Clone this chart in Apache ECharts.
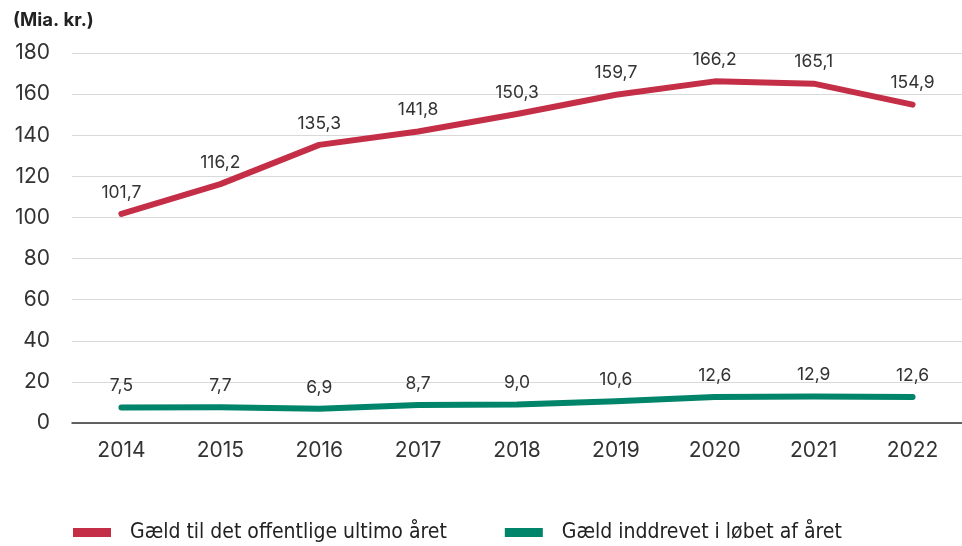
<!DOCTYPE html>
<html><head><meta charset="utf-8">
<script src="https://cdn.jsdelivr.net/npm/echarts@6/dist/echarts.min.js"></script>
<style>html,body{margin:0;padding:0;background:#fff}#c{width:962px;height:546px}</style>
</head><body><div id="c"></div>
<script>
const categories = ['2014','2015','2016','2017','2018','2019','2020','2021','2022'];
const gaeldTotal = [101.7,116.2,135.3,141.8,150.3,159.7,166.2,165.1,154.9];
const gaeldInddrevet = [7.5,7.7,6.9,8.7,9.0,10.6,12.6,12.9,12.6];
const yTicks = [0,20,40,60,80,100,120,140,160,180];
const seriesNames = ['Gæld til det offentlige ultimo året','Gæld inddrevet i løbet af året'];
const fmt = v => v.toFixed(1).replace('.', ',');
const chart = echarts.init(document.getElementById('c'));
const font = 'Inter, "Noto Sans", sans-serif';
const lbl = {show:true,position:'top',distance:12,fontFamily:font,fontSize:17.5,color:'#333',formatter:p=>fmt(p.value)};
chart.setOption({
  animation:false,
  title:{text:'(Mia. kr.)',left:8,top:6,textStyle:{fontFamily:font,fontSize:18.5,fontWeight:'bold',color:'#222'}},
  grid:{left:72,top:53,width:900,height:370,containLabel:false},
  legend:{bottom:-2,left:68,itemWidth:38,itemHeight:9,itemGap:58,icon:'rect',
    textStyle:{fontFamily:'"Liberation Sans Narrow", "DejaVu Sans Condensed", sans-serif',fontSize:21,color:'#222',padding:[0,0,0,14]},
    data:seriesNames},
  xAxis:{type:'category',data:categories,boundaryGap:true,
    axisLine:{lineStyle:{color:'#333',width:1.5}},
    axisTick:{alignWithLabel:true,length:6,lineStyle:{color:'#333'}},
    axisLabel:{fontFamily:font,fontSize:21,color:'#333',margin:17}},
  yAxis:{type:'value',min:0,max:180,interval:20,
    axisLabel:{fontFamily:font,fontSize:21,color:'#333',margin:22,formatter:v=>yTicks.includes(v)?String(v):''},
    splitLine:{lineStyle:{color:'#d9d9d9',width:1.2}},axisLine:{show:false},axisTick:{show:false}},
  series:[
    {name:seriesNames[0],type:'line',data:gaeldTotal,symbol:'circle',symbolSize:1,showSymbol:true,color:'#c42f47',
     lineStyle:{width:6,cap:'round',join:'round'},label:lbl},
    {name:seriesNames[1],type:'line',data:gaeldInddrevet,symbol:'circle',symbolSize:1,showSymbol:true,color:'#00846a',
     lineStyle:{width:6,cap:'round',join:'round'},label:lbl}
  ]
});
</script></body></html>
